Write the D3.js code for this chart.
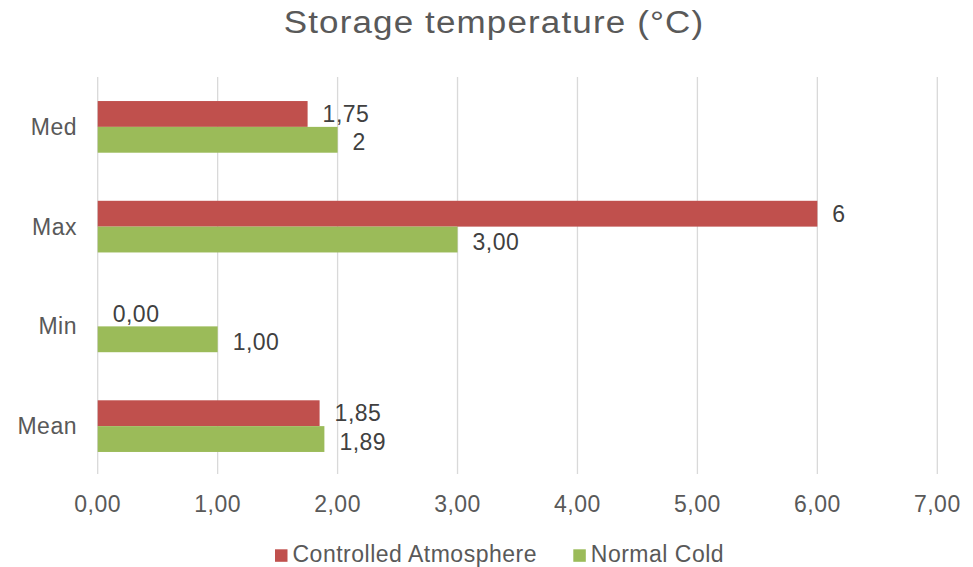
<!DOCTYPE html>
<html lang="en">
<head>
<meta charset="UTF-8">
<title>Storage temperature</title>
<script src="https://d3js.org/d3.v7.min.js"></script>
<style>
  body { margin: 0; background: #fff; }
  text { font-family: "Liberation Sans", Arial, sans-serif; letter-spacing: 0.5px; }
</style>
</head>
<body>
<svg id="chart" width="973" height="567"></svg>
<script>
const categories = ["Med", "Max", "Min", "Mean"];
const seriesNames = ["Controlled Atmosphere", "Normal Cold"];
const controlledAtmosphere = [1.75, 6, 0, 1.85];
const normalCold = [2, 3, 1, 1.89];
// labels as shown on the chart (mixed formats)
const caLabels = ["1,75", "6", "0,00", "1,85"];
const ncLabels = ["2", "3,00", "1,00", "1,89"];
const xTicks = [0, 1, 2, 3, 4, 5, 6, 7];
const colors = ["#C0504D", "#9BBB59"];

const svg = d3.select("#chart");
const plotL = 97.7, plotR = 937.3, plotT = 77, plotB = 476;

const x = d3.scaleLinear().domain([0, 7]).range([plotL, plotR]);
const y = d3.scaleBand().domain(categories).range([plotT, plotB])
    .paddingInner(0.482).paddingOuter(0.241);
const ySub = d3.scaleBand().domain([0, 1]).range([0, y.bandwidth()]);

const fmt = v => d3.format(".2f")(v).replace(".", ",");

// title (the original is a bit wide, so stretch it horizontally)
svg.append("text")
    .attr("transform", "translate(494,33) scale(1.13,1)")
    .attr("text-anchor", "middle")
    .attr("fill", "#595959")
    .style("font-size", "31px")
    .style("letter-spacing", "1px")
    .text("Storage temperature (°C)");

// gridlines
svg.append("g").selectAll("line")
    .data(xTicks).enter().append("line")
    .attr("x1", d => x(d)).attr("x2", d => x(d))
    .attr("y1", plotT).attr("y2", plotB - 2)
    .attr("stroke", "#d9d9d9").attr("stroke-width", 1.3);

// x tick labels
svg.append("g").selectAll("text")
    .data(xTicks).enter().append("text")
    .attr("x", d => x(d)).attr("y", 511.5)
    .attr("text-anchor", "middle")
    .attr("fill", "#595959")
    .style("font-size", "23px")
    .text(d => fmt(d));

// category labels
svg.append("g").selectAll("text")
    .data(categories).enter().append("text")
    .attr("x", 77).attr("y", d => y(d) + y.bandwidth() / 2)
    .attr("dy", "0.35em")
    .attr("text-anchor", "end")
    .attr("fill", "#595959")
    .style("font-size", "23px")
    .text(d => d);

const series = [
    { values: controlledAtmosphere, labels: caLabels, idx: 0 },
    { values: normalCold, labels: ncLabels, idx: 1 }
];

series.forEach(s => {
    const rows = categories.map((c, i) => ({ c, v: s.values[i], label: s.labels[i] }));
    const g = svg.append("g");
    g.selectAll("rect")
        .data(rows).enter().append("rect")
        .attr("x", x(0))
        .attr("y", d => y(d.c) + ySub(s.idx))
        .attr("width", d => x(d.v) - x(0))
        .attr("height", ySub.bandwidth())
        .attr("fill", colors[s.idx]);
    g.selectAll("text")
        .data(rows).enter().append("text")
        .attr("x", d => x(d.v) + 15)
        .attr("y", d => y(d.c) + ySub(s.idx) + ySub.bandwidth() / 2 + (s.idx ? 2.5 : 0))
        .attr("dy", "0.35em")
        .attr("fill", "#404040")
        .style("font-size", "23px")
        .text(d => d.label);
});

// legend
const legendX = [275, 573.3];
const legend = svg.append("g").selectAll("g")
    .data(seriesNames).enter().append("g")
    .attr("transform", (d, i) => `translate(${legendX[i]},549.3)`);
legend.append("rect")
    .attr("width", 12.5).attr("height", 12.5)
    .attr("fill", (d, i) => colors[i]);
legend.append("text")
    .attr("x", 17.5).attr("y", 12.8)
    .attr("fill", "#595959")
    .style("font-size", "23px")
    .text(d => d);
</script>
</body>
</html>
